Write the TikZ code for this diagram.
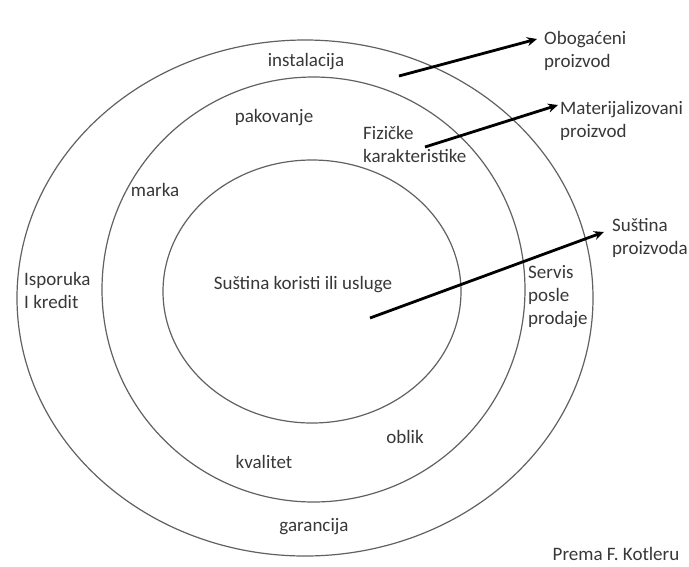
\documentclass[tikz,border=0pt]{standalone}
\usepackage{fontspec}
\setmainfont{Carlito}
\usetikzlibrary{arrows.meta}
\begin{document}
\begin{tikzpicture}[x=1pt,y=-1pt,
  ring/.style={draw=black!62, line width=1.2pt},
  lbl/.style={text=black!78, font=\fontsize{19}{23}\selectfont, inner sep=0pt, align=left},
  ptr/.style={draw=black, line width=2.8pt, -{Stealth[length=10pt,width=9pt]}}]
\useasboundingbox[fill=white] (0,0) rectangle (689,566);
% rings
\draw[ring] (305,298) ellipse [x radius=288, y radius=258];
\draw[ring] (313.5,289.5) ellipse [x radius=211.5, y radius=212.5];
\draw[ring] (312,291.5) ellipse [x radius=149, y radius=131.5];
% labels inside
\node[lbl] (instal) at (306,62) {instalacija};
\node[lbl] (pakov) at (274,118) {pakovanje};
\node[lbl, anchor=west] (fiz) at (363,144) {Fizičke\\karakteristike};
\node[lbl] (marka) at (155,190) {marka};
\node[lbl, anchor=west] (ispor) at (24,290.5) {Isporuka\\I kredit};
\node[lbl] (sust) at (303,285) {Suština koristi ili usluge};
\node[lbl, anchor=west] (servis) at (528,297) {Servis\\posle\\prodaje};
\node[lbl] (oblik) at (405,437) {oblik};
\node[lbl] (kval) at (264,462) {kvalitet};
\node[lbl] (garan) at (314,527) {garancija};
\node[lbl] (prema) at (616,554) {Prema F. Kotleru};
% outer labels
\node[lbl, anchor=west] (obog) at (544,51) {Obogaćeni\\proizvod};
\node[lbl, anchor=west] (mater) at (560,121) {Materijalizovani\\proizvod};
\node[lbl, anchor=west] (sproiz) at (612,237.5) {Suština\\proizvoda};
% arrows
\coordinate (a1s) at (399,76);
\coordinate (a1e) at (537,39);
\coordinate (a2s) at (425,147);
\coordinate (a2e) at (558,105);
\coordinate (a3s) at (370,318);
\coordinate (a3e) at (604,232);
\draw[ptr] (a1s) -- (a1e);
\draw[ptr] (a2s) -- (a2e);
\draw[ptr] (a3s) -- (a3e);
\end{tikzpicture}
\end{document}
